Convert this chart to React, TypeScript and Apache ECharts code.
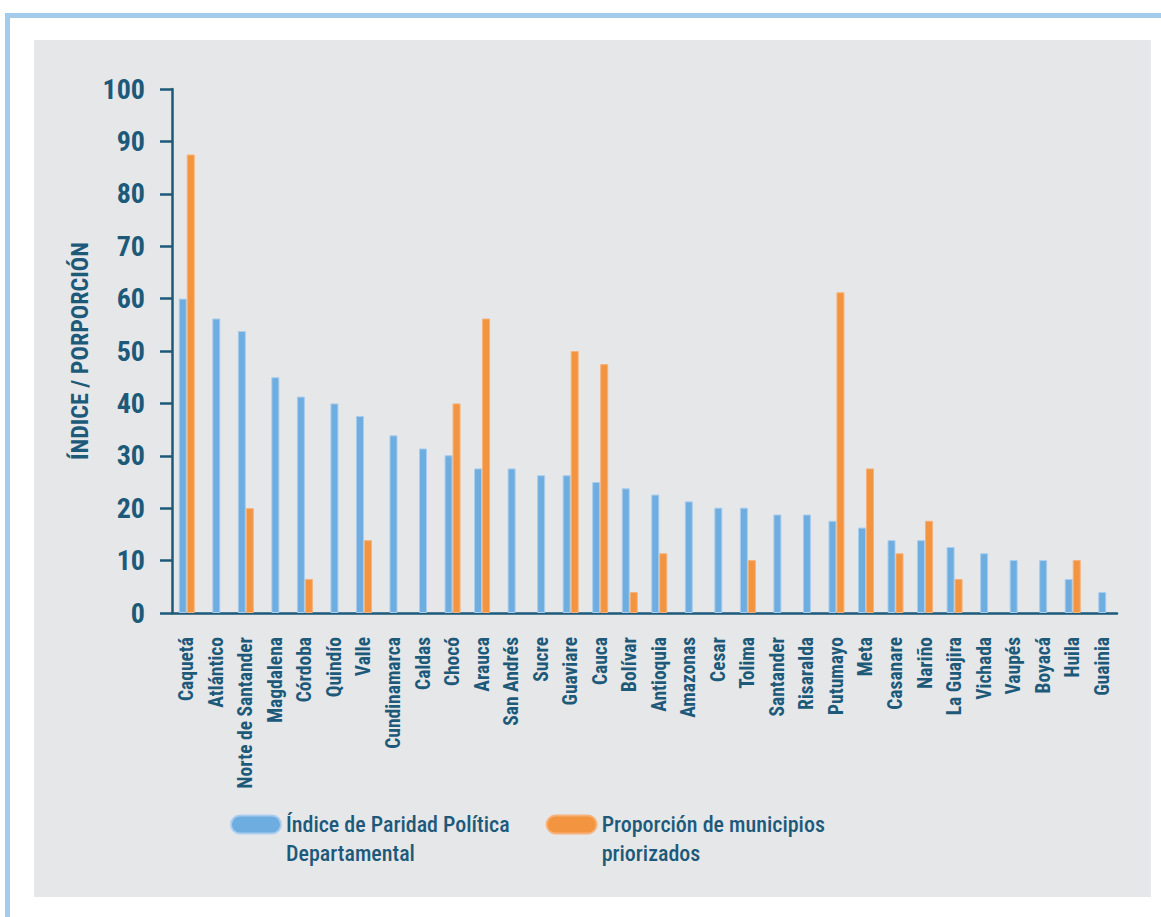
import React, { useEffect, useRef } from "react";
import * as echarts from "echarts";

const categories = [
  "Caquetá", "Atlántico", "Norte de Santander", "Magdalena", "Córdoba", "Quindío", "Valle",
  "Cundinamarca", "Caldas", "Chocó", "Arauca", "San Andrés", "Sucre", "Guaviare", "Cauca",
  "Bolívar", "Antioquia", "Amazonas", "Cesar", "Tolima", "Santander", "Risaralda", "Putumayo",
  "Meta", "Casanare", "Nariño", "La Guajira", "Vichada", "Vaupés", "Boyacá", "Huila", "Guainia",
];

const indiceParidad = [
  60, 56.2, 53.8, 45, 41.3, 40, 37.6, 33.9, 31.4, 30.1, 27.6, 27.6, 26.3, 26.3, 25, 23.8,
  22.6, 21.3, 20.1, 20.1, 18.8, 18.8, 17.6, 16.3, 13.9, 13.9, 12.6, 11.4, 10.1, 10.1, 6.5, 4,
];

const proporcionMunicipios = [
  87.5, null, 20, null, 6.5, null, 13.9, null, null, 40, 56.2, null, null, 50, 47.5, 4,
  11.4, null, null, 10.1, null, null, 61.2, 27.6, 11.4, 17.6, 6.5, null, null, null, 10.1, null,
];

const yTicks = [0, 10, 20, 30, 40, 50, 60, 70, 80, 90, 100];

const seriesNames = ["Índice de Paridad Política\nDepartamental", "Proporción de municipios\npriorizados"];
const yAxisName = "ÍNDICE / PORPORCIÓN";

const TEXT = "#1d5a7a";
const BLUE = "#6eaddf";
const ORANGE = "#f39440";
const FONT = "'Roboto Condensed', 'Open Sans Condensed', 'DejaVu Sans Condensed', sans-serif";

export default function App() {
  const ref = useRef<HTMLDivElement>(null);

  useEffect(() => {
    if (!ref.current) return;
    const chart = echarts.init(ref.current, undefined, { renderer: "svg" });

    const bluePaired = indiceParidad.map((v, i) => (proporcionMunicipios[i] != null ? v : null));
    const blueAlone = indiceParidad.map((v, i) => (proporcionMunicipios[i] == null ? v : null));

    const pill = "path://M9,0 L41,0 A9,9 0 0 1 41,18 L9,18 A9,9 0 0 1 9,0 Z";

    chart.setOption({
      animation: false,
      backgroundColor: "#ffffff",
      textStyle: { fontFamily: FONT },
      graphic: [
        { type: "rect", z: -100, shape: { x: 5, y: 13, width: 1156, height: 5 }, style: { fill: "#a3cbec" } },
        { type: "rect", z: -100, shape: { x: 5, y: 13, width: 5, height: 904 }, style: { fill: "#a3cbec" } },
        { type: "rect", z: -100, shape: { x: 34, y: 40, width: 1117, height: 857 }, style: { fill: "#e6e7e9" } },
      ],
      grid: { left: 172, top: 89, right: 44, bottom: 304, containLabel: false },
      legend: {
        left: 230,
        top: 781,
        padding: 0,
        itemGap: 36,
        itemWidth: 50,
        itemHeight: 18,
        formatter: (n: string) => "\n" + n,
        data: [
          { name: seriesNames[0], icon: pill, itemStyle: { color: BLUE } },
          { name: seriesNames[1], icon: pill, itemStyle: { color: ORANGE } },
        ],
        textStyle: { color: TEXT, fontFamily: FONT, fontWeight: 500, fontSize: 22, lineHeight: 29 },
      },
      xAxis: [
        {
          type: "category",
          data: categories,
          axisLine: { lineStyle: { color: TEXT, width: 2.5 } },
          axisTick: { length: 12, lineStyle: { color: TEXT, width: 2.5 } },
          axisLabel: { rotate: 90, interval: 0, margin: 24, color: TEXT, fontFamily: FONT, fontWeight: "bold", fontSize: 19.5 },
        },
        { type: "category", data: categories, show: false },
      ],
      yAxis: {
        type: "value",
        min: yTicks[0],
        max: yTicks[yTicks.length - 1],
        interval: yTicks[1] - yTicks[0],
        name: yAxisName,
        nameLocation: "middle",
        nameRotate: 90,
        nameGap: 71,
        nameTextStyle: { color: TEXT, fontFamily: FONT, fontWeight: "bold", fontSize: 24 },
        axisLine: { show: true, lineStyle: { color: TEXT, width: 2.5 } },
        axisTick: { show: true, length: 12, lineStyle: { color: TEXT, width: 2.5 } },
        axisLabel: { margin: 27, color: TEXT, fontFamily: FONT, fontWeight: "bold", fontSize: 28 },
        splitLine: { show: false },
      },
      series: [
        { name: seriesNames[0], type: "bar", xAxisIndex: 0, data: bluePaired, barWidth: 8, barGap: "0%",
          itemStyle: { color: BLUE, borderColor: "#a9cdee", borderWidth: 1 } },
        { name: seriesNames[1], type: "bar", xAxisIndex: 0, data: proporcionMunicipios, barWidth: 8, barGap: "0%",
          itemStyle: { color: ORANGE, borderColor: "#f6b27a", borderWidth: 1 } },
        { name: seriesNames[0], type: "bar", xAxisIndex: 1, data: blueAlone, barWidth: 8,
          itemStyle: { color: BLUE, borderColor: "#a9cdee", borderWidth: 1 } },
      ],
    });

    return () => chart.dispose();
  }, []);

  return <div ref={ref} style={{ position: "absolute", left: 0, top: 0, width: 1161, height: 917 }} />;
}
